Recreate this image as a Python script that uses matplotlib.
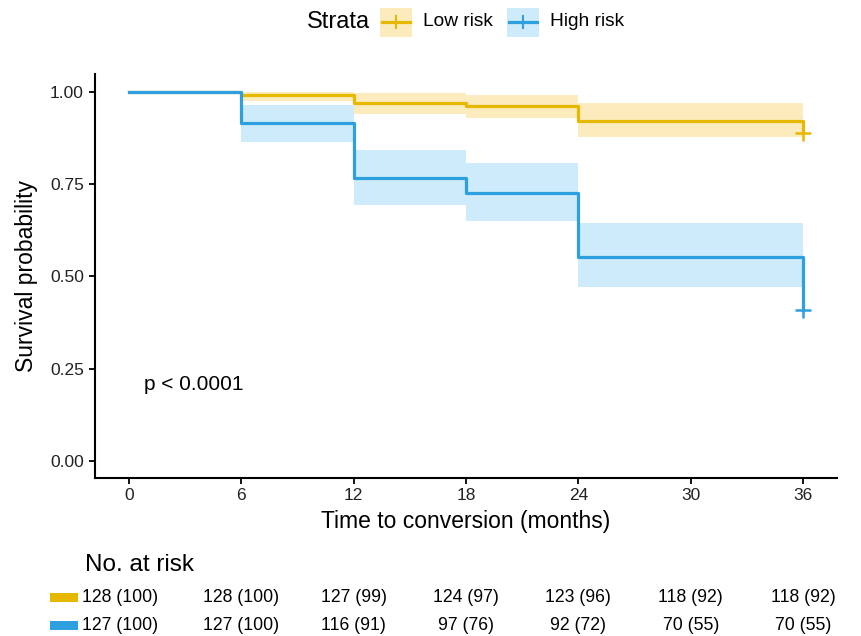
import numpy as np
import matplotlib
matplotlib.use("Agg")
import matplotlib.pyplot as plt
from matplotlib.patches import Rectangle
from matplotlib.lines import Line2D
from matplotlib.transforms import blended_transform_factory

plt.rcParams['font.family'] = ['Liberation Sans', 'DejaVu Sans']

# step curves (time in months)
times = [0, 6, 12, 18, 24, 36]
surv_low = [1.0, 0.992, 0.969, 0.963, 0.921, 0.89]
surv_high = [1.0, 0.915, 0.766, 0.725, 0.552, 0.409]

# confidence bands from month 6 on
ci_times = [6, 12, 18, 24, 36]
low_lo = [0.976, 0.940, 0.929, 0.879, 0.879]
low_hi = [1.0, 0.996, 0.992, 0.969, 0.969]
high_lo = [0.865, 0.694, 0.651, 0.472, 0.472]
high_hi = [0.965, 0.843, 0.807, 0.646, 0.646]

risk_times = [0, 6, 12, 18, 24, 30, 36]
risk_low = ["128 (100)", "128 (100)", "127 (99)", "124 (97)", "123 (96)", "118 (92)", "118 (92)"]
risk_high = ["127 (100)", "127 (100)", "116 (91)", "97 (76)", "92 (72)", "70 (55)", "70 (55)"]

c_low = "#E7B800"
c_high = "#2E9FDF"
f_low = "#FBEBBD"
f_high = "#CDEBFA"

W, H = 862, 636
fig = plt.figure(figsize=(W / 100, H / 100), dpi=100)

def px(x, y):
    return x / W, 1 - y / H

ax = fig.add_axes([95 / W, 1 - 478 / H, (837 - 95) / W, (478 - 73.5) / H])

ax.fill_between(ci_times, low_lo, low_hi, step='post', color=f_low, lw=0)
ax.fill_between(ci_times, high_lo, high_hi, step='post', color=f_high, lw=0)
ax.step(times, surv_low, where='post', color=c_low, lw=2.3)
ax.step(times, surv_high, where='post', color=c_high, lw=2.3)
ax.plot(times[-1], surv_low[-1], marker='+', ms=11, mew=1.8, color=c_low)
ax.plot(times[-1], surv_high[-1], marker='+', ms=11, mew=1.8, color=c_high)

ax.set_xlim(-1.8, 37.8)
ax.set_ylim(-0.046, 1.05)
ax.set_xticks(risk_times)
ax.set_yticks([0, 0.25, 0.5, 0.75, 1.0])
ax.set_yticklabels(["0.00", "0.25", "0.50", "0.75", "1.00"])
ax.tick_params(labelsize=12.5, length=4, width=1.3, color='black', labelcolor='#222222')
ax.tick_params(axis='y', pad=4)
ax.tick_params(axis='x', pad=3.5)
for s in ['top', 'right']:
    ax.spines[s].set_visible(False)
for s in ['left', 'bottom']:
    ax.spines[s].set_linewidth(1.5)
ax.set_xlabel("Time to conversion (months)", fontsize=16.5, labelpad=5)
ax.set_ylabel("Survival probability", fontsize=16.5, labelpad=9)
ax.text(0.8, 0.206, "p < 0.0001", fontsize=15, va='center', ha='left')

# legend on top
fig.text(*px(307, 22), "Strata", fontsize=17, va='center', ha='left')
for x0, lab, col, fc in [(380, "Low risk", c_low, f_low), (507, "High risk", c_high, f_high)]:
    fig.add_artist(Rectangle(px(x0, 37), 32 / W, 29 / H, facecolor=fc, lw=0,
                             transform=fig.transFigure))
    fig.add_artist(Line2D([px(x0 + 2, 0)[0], px(x0 + 30, 0)[0]], [px(0, 22)[1]] * 2,
                          color=col, lw=2.3, transform=fig.transFigure))
    fig.add_artist(Line2D([px(x0 + 16, 0)[0]] * 2, [px(0, 16)[1], px(0, 28)[1]],
                          color=col, lw=1.5, transform=fig.transFigure))
    fig.text(*px(x0 + 43, 22), lab, fontsize=13.8, va='center', ha='left')

# risk table
fig.text(*px(85, 565), "No. at risk", fontsize=17.5, va='center', ha='left')
tr = blended_transform_factory(ax.transData, fig.transFigure)
for row_y, vals, col in [(597, risk_low, c_low), (625, risk_high, c_high)]:
    fig.add_artist(Rectangle(px(50, row_y + 4.5), 28 / W, 9 / H, facecolor=col, lw=0,
                             transform=fig.transFigure))
    # first column sits against the colour key
    fig.text(*px(82, row_y), vals[0], fontsize=12.7, ha='left', va='center')
    for t, v in zip(risk_times[1:], vals[1:]):
        fig.text(t, px(0, row_y)[1], v, transform=tr, fontsize=12.7,
                 ha='center', va='center')

fig.savefig("out.png", dpi=100)
